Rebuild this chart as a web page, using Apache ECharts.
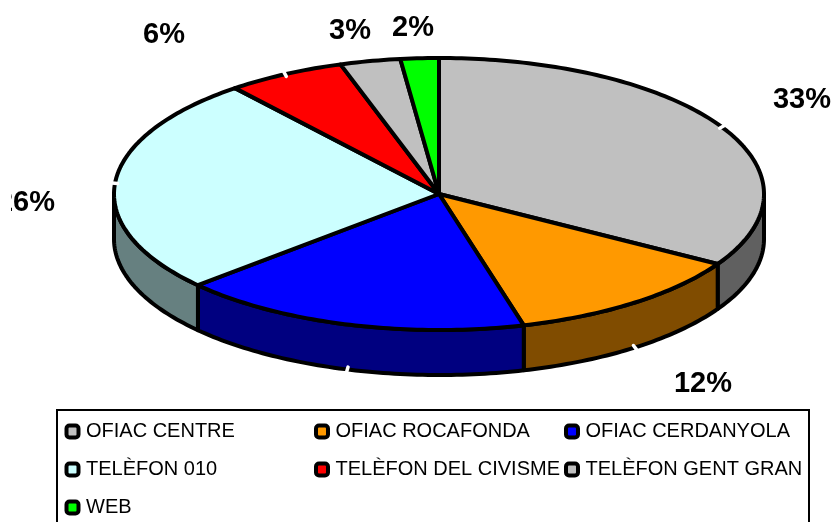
<!DOCTYPE html>
<html>
<head>
<meta charset="utf-8">
<style>html,body{margin:0;padding:0;background:#fff;overflow:hidden}#c{width:833px;height:522px}</style>
<script src="https://cdn.jsdelivr.net/npm/echarts@6/dist/echarts.min.js"></script>
</head>
<body>
<div id="c"></div>
<script>
var categories = ['OFIAC CENTRE','OFIAC ROCAFONDA','OFIAC CERDANYOLA','TELÈFON 010','TELÈFON DEL CIVISME','TELÈFON GENT GRAN','WEB'];
var values = [33.6, 12.2, 17.5, 25.9, 5.9, 3.0, 1.9];
var valueLabels = ['33%','12%','','26%','6%','3%','2%'];
var topColors = ['#C0C0C0','#FF9900','#0000FF','#CCFFFF','#FF0000','#C0C0C0','#00FF00'];
var sideColors = ['#606060','#804C00','#000080','#668080','#800000','#606060','#008000'];
var legendColumns = [[0,3,6],[1,4],[2,5]];

var CX = 439, CY = 194, RX = 325, RY = 136, DEPTH = 45;
var labelOffsets = [[363,-94],[264,190],[0,0],[-413,9],[-275,-159],[-89,-163],[-26,-166]];
var tickFlags = [1,1,1,1,1,0,0];
var total = values.reduce(function(a,b){return a+b;},0);
var starts = [], acc = 0;
values.forEach(function(v){ starts.push(acc/total*Math.PI*2); acc += v; });
function pt(t, dy){ return [CX+RX*Math.sin(t), CY-RY*Math.cos(t)+(dy||0)]; }
function arc(a, b, dy){
  var n = Math.max(2, Math.ceil(Math.abs(b-a)/(Math.PI/180))), r = [];
  for (var i=0;i<=n;i++) r.push(pt(a+(b-a)*i/n, dy));
  return r;
}
function renderSlice(idx){
  return function(params, api){
    var a = starts[idx], b = a + api.value(0)/total*Math.PI*2;
    var kids = [];
    var fa = Math.max(a, Math.PI/2), fb = Math.min(b, Math.PI*1.5);
    if (fb > fa) {
      kids.push({type:'polygon', shape:{points: arc(fa,fb,0).concat(arc(fb,fa,DEPTH))},
        style:{fill:sideColors[idx], stroke:'#000', lineWidth:4, lineJoin:'round'}});
    }
    kids.push({type:'polygon', shape:{points: [[CX,CY]].concat(arc(a,b,0))},
      style:{fill:topColors[idx], stroke:'#000', lineWidth:4, lineJoin:'round'}});
    var m = (a+b)/2;
    if (tickFlags[idx]) {
      var front = Math.cos(m) < 0 && m > Math.PI/2 && m < Math.PI*1.5;
      var p = pt(m, front ? DEPTH : 0);
      var ux = Math.sin(m), uy = -Math.cos(m);
      kids.push({type:'line', shape:{x1:p[0]-ux*2.5,y1:p[1]-uy*2.5,x2:p[0]+ux*3,y2:p[1]+uy*3},
        style:{stroke:'#fff', lineWidth:3.5, lineCap:'round'}});
    }
    if (valueLabels[idx]) {
      var o = labelOffsets[idx];
      kids.push({type:'text', z2:50, style:{x:CX+o[0], y:CY+o[1], text:valueLabels[idx], fill:'#000',
        font:'bold 29px "Liberation Sans", Arial, sans-serif', align:'center', verticalAlign:'middle'}});
    }
    return {type:'group', children:kids};
  };
}
var series = categories.map(function(name,i){
  return {type:'custom', name:name, coordinateSystem:'none', silent:true, animation:false,
    itemStyle:{color:topColors[i]}, data:[[values[i]]], renderItem:renderSlice(i), z:2+i};
});
var legendLefts = [64.5, 314, 564];
var legends = legendColumns.map(function(col,i){
  return {orient:'vertical', left:legendLefts[i], top:420, padding:0, itemGap:15, itemWidth:12, itemHeight:12,
    selectedMode:false, icon:'roundRect',
    itemStyle:{borderColor:'#000', borderWidth:4},
    textStyle:{color:'#000', fontFamily:'"Liberation Sans", Arial, sans-serif', fontSize:20, padding:[0,0,0,2.5], lineHeight:23},
    data: col.map(function(k){return categories[k];})};
});
var chart = echarts.init(document.getElementById('c'), null, {renderer:'canvas'});
chart.setOption({
  animation:false, backgroundColor:'#fff',
  legend:legends, series:series,
  graphic:[
    {type:'rect', z:100, shape:{x:0,y:150,width:11,height:100}, style:{fill:'#fff'}},
    {type:'rect', z:-1, shape:{x:57,y:410,width:752,height:130}, style:{fill:'#fff',stroke:'#000',lineWidth:2}}
  ]
});
</script>
</body>
</html>
